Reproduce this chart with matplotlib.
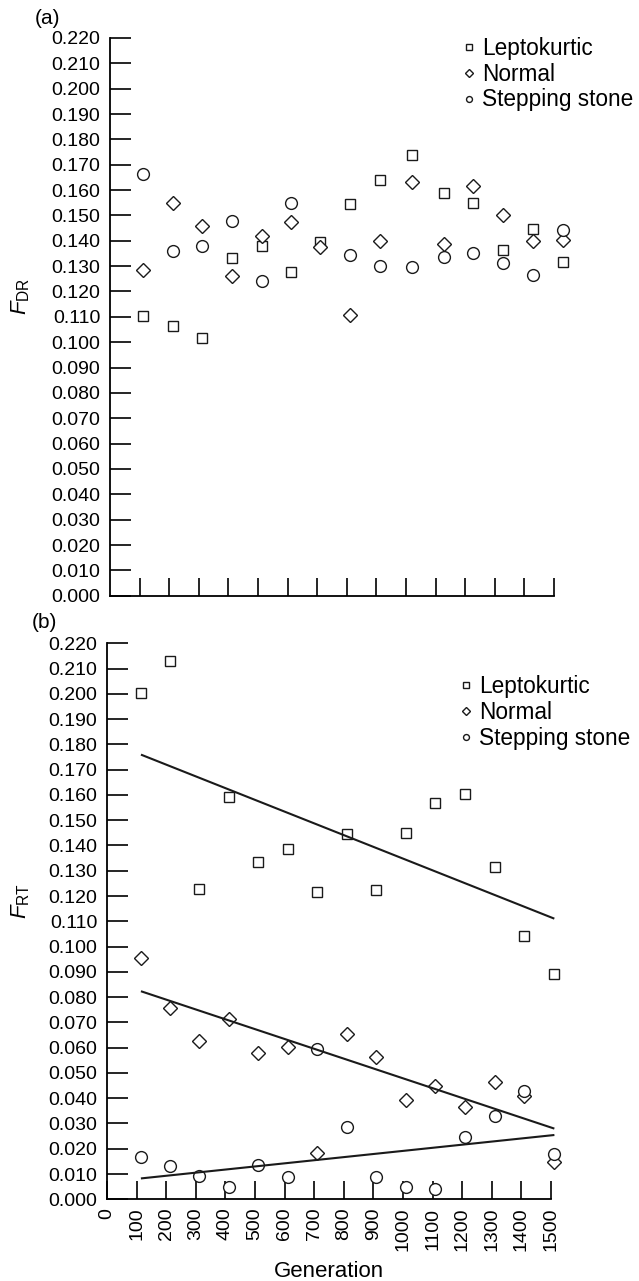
import numpy as np
import matplotlib
matplotlib.use("Agg")
import matplotlib.pyplot as plt
from matplotlib.ticker import MultipleLocator, FormatStrFormatter

plt.rcParams['font.family'] = ['Liberation Sans', 'DejaVu Sans']
plt.rcParams['mathtext.fontset'] = 'custom'
plt.rcParams['mathtext.rm'] = 'Liberation Sans'
plt.rcParams['mathtext.it'] = 'Liberation Sans:italic'

# panel (a) F_DR
gen_a = [111, 213, 311, 412, 514, 611, 709, 811, 912, 1020, 1128, 1226, 1328, 1429, 1530]
lepto_a = [0.1105, 0.1064, 0.1016, 0.1332, 0.1378, 0.1275, 0.1397, 0.1546, 0.1641,
           0.1737, 0.1588, 0.1549, 0.1364, 0.1446, 0.1318]
normal_a = [0.1286, 0.1549, 0.1460, 0.1262, 0.1420, 0.1474, 0.1375, 0.1108, 0.1401,
            0.1630, 0.1387, 0.1618, 0.1503, 0.1401, 0.1404]
stone_a = [0.1664, 0.1358, 0.1380, 0.1480, 0.1242, 0.1549, np.nan, 0.1345, 0.1301,
           0.1295, 0.1338, 0.1351, 0.1312, 0.1266, 0.1443]

# panel (b) F_RT
gen_b = [115, 213, 311, 412, 510, 611, 709, 811, 909, 1010, 1108, 1209, 1311, 1409, 1510]
lepto_b = [0.2005, 0.2130, 0.1229, 0.1593, 0.1334, 0.1385, 0.1215, 0.1444, 0.1224,
           0.1448, 0.1570, 0.1604, 0.1314, 0.1043, 0.0890]
normal_b = [0.0956, 0.0758, 0.0626, 0.0715, 0.0580, 0.0601, 0.0182, 0.0654, 0.0562,
            0.0393, 0.0448, 0.0364, 0.0463, 0.0410, 0.0149]
stone_b = [0.0169, 0.0133, 0.0094, 0.0050, 0.0136, 0.0089, 0.0594, 0.0287, 0.0089,
           0.0050, 0.0041, 0.0245, 0.0331, 0.0430, 0.0178]

# regression lines in panel (b), values at start and end generation
trend_x = [118, 1508]
trend_lepto = [0.1758, 0.1112]
trend_normal = [0.0822, 0.0281]
trend_stone = [0.0083, 0.0254]

x_ticks = list(range(100, 1600, 100))
x_labels = [str(v) for v in range(0, 1600, 100)]
series = [('Leptokurtic', 's', 7.5), ('Normal', 'D', 7.3), ('Stepping stone', 'o', 8.5)]

W, H = 639, 1281
fig = plt.figure(figsize=(W / 100, H / 100), dpi=100)
ax_a = fig.add_axes([110 / W, 1 - 595.7 / H, 444 / W, 557.7 / H])
ax_b = fig.add_axes([107 / W, 1 - 1199.3 / H, 444 / W, 556 / H])


def style(ax, ylab, label_pos):
    ax.set_xlim(0, 1500)
    ax.set_ylim(0, 0.22)
    ax.spines['top'].set_visible(False)
    ax.spines['right'].set_visible(False)
    for s in ('left', 'bottom'):
        ax.spines[s].set_linewidth(1.3)
    ax.yaxis.set_major_locator(MultipleLocator(0.01))
    ax.yaxis.set_major_formatter(FormatStrFormatter('%.3f'))
    ax.tick_params(axis='y', direction='in', length=15, width=1.2, labelsize=14, pad=7)
    ax.tick_params(axis='x', direction='in', length=13, width=1.2, labelsize=14)
    ax.set_ylabel(ylab, fontsize=16)
    ax.yaxis.set_label_coords(label_pos[0], label_pos[1])


style(ax_a, r'$F_{\mathrm{DR}}$', (-0.176, 0.536))
style(ax_b, r'$F_{\mathrm{RT}}$', (-0.169, 0.537))

ax_a.set_xticks(x_ticks)
ax_a.set_xticklabels([])
ax_b.set_xticks([0] + x_ticks)
ax_b.set_xticklabels(x_labels, rotation=90)
ax_b.tick_params(axis='x', pad=6)
ax_b.set_xlabel('Generation', fontsize=16, labelpad=7)

for ax, gen, vals, anchor_y in [(ax_a, gen_a, [lepto_a, normal_a, stone_a], 1.018),
                                (ax_b, gen_b, [lepto_b, normal_b, stone_b], 0.959)]:
    for (name, m, ms), v in zip(series, vals):
        ax.plot(gen, v, linestyle='none', marker=m, markersize=ms, markerfacecolor='white',
                markeredgecolor='#1a1a1a', markeredgewidth=1.0, label=name, clip_on=False)
    ax.legend(loc='upper right', bbox_to_anchor=(1.2, anchor_y), frameon=False, fontsize=16.3,
              markerscale=0.5, handlelength=0.5, handletextpad=0.35, labelspacing=0.12,
              borderaxespad=0.0)

for tv in (trend_lepto, trend_normal, trend_stone):
    ax_b.plot(trend_x, tv, color='#1a1a1a', linewidth=1.5, clip_on=False)

fig.text(35 / W, 1 - 19 / H, '(a)', fontsize=15, va='center', ha='left')
fig.text(32 / W, 1 - 622 / H, '(b)', fontsize=15, va='center', ha='left')

fig.savefig('out.png', dpi=100)
